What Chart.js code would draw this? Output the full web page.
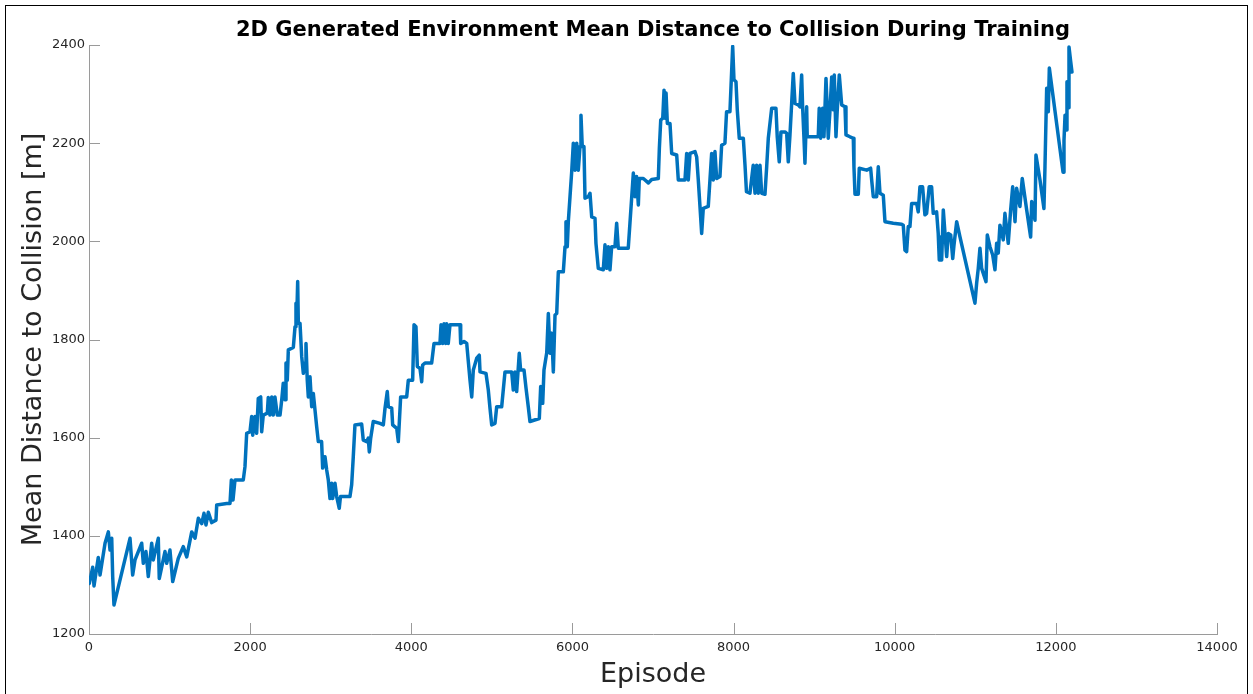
<!DOCTYPE html>
<html>
<head>
<meta charset="utf-8">
<script src="https://cdn.jsdelivr.net/npm/chart.js@4"></script>
<style>
  html, body { margin: 0; padding: 0; background: #fff; overflow: hidden; }
  #wrap { position: relative; width: 1253px; height: 694px; }
  #frame { position: absolute; left: 5px; top: 5px; width: 1243px; height: 720px; border: 1px solid #000; box-sizing: border-box; pointer-events: none; }
  canvas { position: absolute; left: 0; top: 0; }
</style>
</head>
<body>
<div id="wrap">
  <canvas id="c" width="1253" height="694"></canvas>
  <div id="frame"></div>
</div>
<script>
const titleText = "2D Generated Environment Mean Distance to Collision During Training";
const xLabel = "Episode";
const yLabel = "Mean Distance to Collision [m]";
const xTicks = [0, 2000, 4000, 6000, 8000, 10000, 12000, 14000];
const yTicks = [1200, 1400, 1600, 1800, 2000, 2200, 2400];

const episodes = [
4,46,62,115,137,199,240,261,282,294,310,509,542,571,654,674,707,736,778,798,
860,872,943,964,1005,1039,1108,1170,1213,1275,1316,1357,1399,1427,1452,1481,1523,1576,1585,1709,
1750,1767,1787,1812,1915,1936,1957,1998,2019,2032,2060,2081,2101,2131,2143,2163,2213,2225,2246,2268,
2287,2308,2337,2371,2392,2411,2433,2445,2461,2474,2536,2557,2569,2578,2590,2598,2619,2640,2660,2681,
2693,2709,2722,2743,2764,2784,2805,2826,2846,2887,2900,2929,2950,2970,2991,3012,3024,3053,3074,3106,
3121,3239,3260,3280,3301,3384,3404,3446,3466,3479,3496,3528,3612,3653,3674,3702,3715,3757,3769,3819,
3839,3868,3943,3963,4017,4034,4058,4075,4108,4129,4141,4170,4253,4282,4356,4369,4390,4406,4427,4439,
4459,4480,4605,4613,4654,4688,4708,4729,4750,4770,4812,4844,4853,4927,4956,4977,4998,5039,5060,5122,
5163,5246,5266,5287,5308,5340,5357,5399,5424,5452,5473,5589,5606,5631,5647,5681,5701,5722,5743,5763,
5784,5805,5825,5887,5908,5920,5936,5949,5970,5991,6011,6032,6053,6073,6094,6106,6122,6143,6156,6197,
6218,6239,6280,6292,6321,6383,6404,6425,6445,6466,6487,6528,6549,6569,6693,6714,6735,6756,6777,6797,
6818,6830,6880,6942,6984,7066,7079,7096,7121,7137,7149,7162,7178,7211,7232,7294,7314,7397,7418,7438,
7459,7521,7542,7562,7583,7604,7624,7686,7707,7728,7748,7769,7790,7831,7852,7893,7913,7955,7989,8005,
8030,8046,8071,8121,8142,8160,8203,8244,8266,8286,8307,8328,8349,8390,8411,8431,8473,8526,8542,8567,
8588,8638,8659,8679,8700,8721,8741,8762,8803,8824,8845,8857,8873,8886,8907,8914,9051,9063,9081,9105,
9122,9147,9163,9175,9197,9218,9238,9250,9271,9287,9312,9342,9383,9395,9445,9486,9494,9507,9548,9560,
9652,9701,9714,9734,9776,9796,9817,9858,9879,9982,10086,10106,10127,10148,10168,10189,10210,10272,10292,10313,
10346,10375,10396,10428,10458,10478,10520,10540,10553,10570,10583,10603,10624,10645,10665,10695,10720,10736,10769,10810,
10996,11017,11037,11058,11079,11133,11149,11182,11216,11244,11265,11285,11306,11347,11368,11409,11439,11464,11493,11513,
11554,11583,11638,11687,11700,11741,11753,11803,11852,11865,11886,11906,11919,12089,12101,12114,12126,12138,12151,12163,
12182,12200
];
const distances = [
1303,1336,1298,1356,1320,1385,1408,1371,1395,1317,1259,1395,1320,1351,1385,1344,1368,1317,1385,1351,
1395,1313,1368,1344,1371,1307,1354,1378,1357,1408,1395,1436,1425,1446,1422,1448,1427,1432,1463,1466,
1466,1514,1473,1514,1514,1541,1609,1612,1643,1605,1643,1609,1680,1683,1612,1646,1650,1682,1646,1683,
1646,1683,1646,1646,1677,1711,1677,1752,1717,1779,1784,1826,1874,1840,1918,1833,1833,1765,1731,1752,
1792,1717,1683,1724,1663,1690,1656,1622,1592,1592,1538,1561,1534,1514,1476,1507,1476,1507,1480,1456,
1480,1480,1504,1561,1626,1628,1595,1592,1599,1571,1599,1633,1629,1626,1660,1694,1663,1660,1626,1619,
1592,1683,1683,1717,1717,1830,1826,1745,1741,1714,1748,1752,1752,1792,1792,1830,1792,1832,1792,1832,
1792,1830,1830,1792,1796,1792,1755,1717,1683,1738,1762,1768,1734,1731,1697,1660,1626,1629,1663,1663,
1734,1734,1697,1734,1694,1772,1738,1738,1701,1663,1633,1639,1704,1670,1738,1773,1853,1772,1813,1734,
1850,1853,1938,1938,1989,2040,1989,2040,2091,2142,2200,2145,2200,2145,2193,2257,2193,2193,2088,2091,
2098,2050,2047,1996,1945,1942,1993,1945,1989,1942,1989,1989,2037,1986,1986,2037,2088,2139,2091,2132,
2074,2128,2128,2119,2126,2128,2190,2247,2251,2308,2251,2302,2240,2240,2179,2176,2125,2125,2179,2125,
2179,2183,2172,2125,2071,2016,2067,2071,2125,2179,2125,2183,2128,2132,2196,2200,2264,2264,2397,2329,
2325,2268,2210,2210,2155,2101,2098,2155,2098,2155,2098,2155,2098,2096,2152,2210,2271,2271,2213,2162,
2223,2223,2220,2162,2217,2281,2342,2281,2278,2274,2339,2274,2213,2159,2274,2213,2213,2271,2210,2271,
2213,2332,2268,2210,2268,2335,2268,2339,2213,2268,2339,2278,2274,2217,2213,2210,2152,2096,2096,2149,
2145,2149,2125,2091,2091,2152,2098,2094,2040,2037,2035,2033,1982,1979,2030,2030,2077,2077,2060,2111,
2111,2054,2057,2111,2111,2057,2060,2016,1962,2009,1962,2064,2016,1969,2016,2013,1965,1993,2040,2009,
1874,1915,1945,1986,1945,1918,2013,1989,1972,1942,1996,1976,2033,2003,2057,1996,2064,2111,2040,2108,
2071,2128,2064,2009,2081,2043,2176,2125,2067,2152,2312,2264,2353,2141,2206,2257,2227,2325,2272,2396,
2369,2345
];

const AXIS_COLOR = '#9a9a9a';
const TEXT_COLOR = '#262626';
const FONT = 'DejaVu Sans';

const points = episodes.map((e, i) => ({ x: e, y: distances[i] }));

const inwardTicks = {
  id: 'inwardTicks',
  beforeDatasetsDraw(chart) {
    const { ctx, chartArea, scales } = chart;
    ctx.save();
    ctx.strokeStyle = AXIS_COLOR;
    ctx.lineWidth = 1;
    ctx.beginPath();
    xTicks.forEach(v => {
      const px = Math.round(scales.x.getPixelForValue(v)) + 0.5;
      ctx.moveTo(px, chartArea.bottom);
      ctx.lineTo(px, chartArea.bottom - 11);
    });
    yTicks.forEach(v => {
      const py = Math.round(scales.y.getPixelForValue(v)) + 0.5;
      ctx.moveTo(chartArea.left, py);
      ctx.lineTo(chartArea.left + 11, py);
    });
    ctx.stroke();
    ctx.restore();
  }
};

const axesTitle = {
  id: 'axesTitle',
  afterDraw(chart) {
    const { ctx, chartArea } = chart;
    ctx.save();
    ctx.fillStyle = '#000';
    ctx.font = 'bold 21px "DejaVu Sans"';
    ctx.textAlign = 'center';
    ctx.textBaseline = 'middle';
    ctx.fillText(titleText, (chartArea.left + chartArea.right) / 2, 31);
    ctx.restore();
  }
};

new Chart(document.getElementById('c'), {
  type: 'line',
  data: {
    datasets: [{
      data: points,
      borderColor: '#0072BD',
      backgroundColor: '#0072BD',
      borderWidth: 3.5,
      pointRadius: 0,
      tension: 0,
      fill: false,
      borderJoinStyle: 'round',
      borderCapStyle: 'round'
    }]
  },
  options: {
    responsive: false,
    animation: false,
    devicePixelRatio: 1,
    layout: { padding: { top: 45, right: 36, left: 0, bottom: 0 } },
    plugins: {
      legend: { display: false },
      tooltip: { enabled: false },
      title: { display: false }
    },
    scales: {
      x: {
        type: 'linear',
        min: 0, max: 14000,
        afterBuildTicks: s => { s.ticks = xTicks.map(v => ({ value: v })); },
        afterFit: s => { s.height = 60; },
        grid: { display: false, drawTicks: false },
        border: { display: true, color: AXIS_COLOR, width: 1 },
        ticks: { color: TEXT_COLOR, font: { family: FONT, size: 13 }, padding: 6, maxRotation: 0, autoSkip: false, callback: v => String(v) },
        title: { display: true, text: xLabel, color: TEXT_COLOR, font: { family: FONT, size: 27 }, padding: { top: 0, bottom: 3 } }
      },
      y: {
        type: 'linear',
        min: 1200, max: 2400,
        afterBuildTicks: s => { s.ticks = yTicks.map(v => ({ value: v })); },
        afterFit: s => { s.width = 89; },
        grid: { display: false, drawTicks: false },
        border: { display: true, color: AXIS_COLOR, width: 1 },
        ticks: { color: TEXT_COLOR, font: { family: FONT, size: 13 }, padding: 4, autoSkip: false, callback: v => String(v) },
        title: { display: true, text: yLabel, color: TEXT_COLOR, font: { family: FONT, size: 27 }, padding: { top: 18, bottom: 0 } }
      }
    }
  },
  plugins: [inwardTicks, axesTitle]
});
</script>
</body>
</html>
